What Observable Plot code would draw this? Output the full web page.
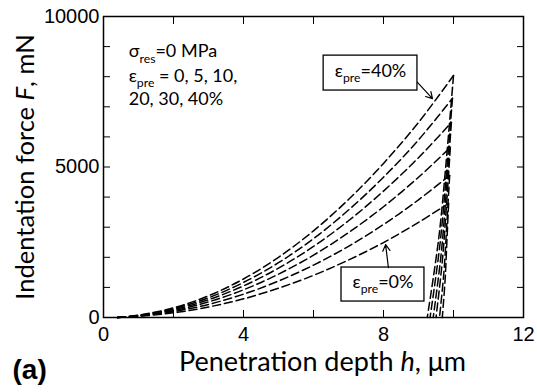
<!DOCTYPE html>
<html><head><meta charset="utf-8">
<script src="https://cdn.jsdelivr.net/npm/d3@7"></script>
<script src="https://cdn.jsdelivr.net/npm/@observablehq/plot@0.6"></script>
<style>body{margin:0;background:#fff}</style>
</head><body><div id="chart"></div>
<script>
// Pre-strain levels
const series = ["0%", "5%", "10%", "20%", "30%", "40%"];
// Loading branch: depth (µm) and force (mN)
const hLoad = [0.4, 1, 2, 3, 4, 5, 6, 7, 8, 9];
const F0  = [0, 40, 155, 350, 620, 975, 1400, 1910, 2490, 3160];
const F5  = [0, 48, 195, 435, 775, 1210, 1740, 2365, 3090, 3910];
const F10 = [0, 58, 230, 520, 920, 1440, 2070, 2820, 3680, 4660];
const F20 = [0, 66, 262, 590, 1050, 1640, 2360, 3215, 4200, 5310];
const F30 = [0, 73, 290, 655, 1165, 1820, 2620, 3570, 4660, 5900];
const F40 = [0, 80, 320, 720, 1280, 2000, 2880, 3920, 5120, 6480];
const loadF = [F0, F5, F10, F20, F30, F40];
// Peak points
const peakH = [9.86, 9.89, 9.91, 9.94, 9.97, 10.0];
const peakF = [3790, 4720, 5650, 6480, 7280, 8040];
// Unloading branch (two intermediate points, then residual depth)
const unloadH1 = [9.81, 9.81, 9.80, 9.80, 9.80, 9.80];
const unloadF1 = [2500, 3115, 3730, 4280, 4805, 5305];
const unloadH2 = [9.76, 9.73, 9.68, 9.65, 9.61, 9.58];
const unloadF2 = [1250, 1560, 1865, 2140, 2400, 2650];
const residualH = [9.68, 9.60, 9.50, 9.42, 9.33, 9.25];

// Tick values
const xTicksAll = [0, 2, 4, 6, 8, 10, 12];
const xTickLabels = [0, 4, 8, 12];
const yTicksAll = [0, 1000, 2000, 3000, 4000, 5000, 6000, 7000, 8000, 9000, 10000];
const yTickLabels = [0, 5000, 10000];

// Annotations (data units)
const noteText = ["σ_{res}=0 MPa", "ε_{pre} = 0, 5, 10,", "20, 30, 40%"];
const noteH = [0.72, 0.72, 0.72];
const noteF = [8830, 8010, 7260];
const boxText = ["ε_{pre}=40%", "ε_{pre}=0%"];
const boxX1 = [6.29, 6.80], boxX2 = [8.97, 9.17];
const boxY1 = [7540, 530], boxY2 = [8700, 1660];
const arrowX1 = [8.97, 8.14], arrowY1 = [7810, 1660];
const arrowX2 = [9.40, 8.06], arrowY2 = [7270, 2420];

// Build tables
const loadRows = [], unloadRows = [];
series.forEach((s, i) => {
  hLoad.forEach((h, j) => loadRows.push({s, h, F: loadF[i][j]}));
  loadRows.push({s, h: peakH[i], F: peakF[i]});
  unloadRows.push({s, h: peakH[i], F: peakF[i]});
  unloadRows.push({s, h: unloadH1[i], F: unloadF1[i]});
  unloadRows.push({s, h: unloadH2[i], F: unloadF2[i]});
  unloadRows.push({s, h: residualH[i], F: 0});
});
const notes = noteText.map((t, i) => ({t, h: noteH[i], F: noteF[i]}));
const boxes = boxText.map((t, i) => ({t, x1: boxX1[i], x2: boxX2[i], y1: boxY1[i], y2: boxY2[i]}));
const arrows = arrowX1.map((d, i) => ({x1: arrowX1[i], y1: arrowY1[i], x2: arrowX2[i], y2: arrowY2[i]}));

const labelFont = "Lato, 'Open Sans', sans-serif";
const tickFont = "'Liberation Sans', Arial, sans-serif";
const dash = "8,4";

const plot = Plot.plot({
  width: 537, height: 392,
  marginLeft: 103, marginRight: 14, marginTop: 16, marginBottom: 75,
  style: {background: "#fff", color: "#000"},
  x: {domain: [0, 12]},
  y: {domain: [0, 10000]},
  marks: [
    Plot.line(loadRows, {x: "h", y: "F", z: "s", stroke: "#000", strokeWidth: 1.5, strokeDasharray: dash, curve: "catmull-rom"}),
    Plot.line(unloadRows, {x: "h", y: "F", z: "s", stroke: "#000", strokeWidth: 1.5, strokeDasharray: dash, curve: "catmull-rom"}),
    Plot.axisX({ticks: xTicksAll, tickSize: -7, tickFormat: () => "", anchor: "bottom", label: null}),
    Plot.axisX({ticks: xTicksAll, tickSize: -7, tickFormat: () => "", anchor: "top", label: null}),
    Plot.axisX({ticks: xTickLabels, tickSize: 0, tickPadding: 9, anchor: "bottom", label: null, fontSize: 20, fontFamily: tickFont, tickFormat: d => String(d)}),
    Plot.axisY({ticks: yTicksAll, tickSize: -7, tickFormat: () => "", anchor: "left", label: null}),
    Plot.axisY({ticks: yTicksAll, tickSize: -7, tickFormat: () => "", anchor: "right", label: null}),
    Plot.axisY({ticks: yTickLabels, tickSize: 0, tickPadding: 4, anchor: "left", label: null, fontSize: 20, fontFamily: tickFont, tickFormat: d => String(d)}),
    Plot.frame({stroke: "#000", strokeWidth: 1.5}),
    Plot.rect(boxes, {x1: "x1", x2: "x2", y1: "y1", y2: "y2", fill: "#fff", stroke: "#000", strokeWidth: 1.3}),
    Plot.text(boxes, {x: d => (d.x1 + d.x2) / 2, y: d => (d.y1 + d.y2) / 2, text: "t", fontSize: 18, fontFamily: labelFont, dy: -2}),
    Plot.arrow(arrows, {x1: "x1", y1: "y1", x2: "x2", y2: "y2", stroke: "#000", strokeWidth: 1.2, headLength: 9}),
    Plot.text(notes, {x: "h", y: "F", text: "t", textAnchor: "start", fontSize: 18, fontFamily: labelFont}),
    Plot.text(["Penetration depth *h*, μm"], {frameAnchor: "bottom", dx: 9, dy: 53, fontSize: 27, fontFamily: labelFont}),
    Plot.text(["Indentation force *F*, mN"], {frameAnchor: "left", textAnchor: "middle", rotate: -90, dx: -78, fontSize: 25.5, fontFamily: labelFont}),
    Plot.text(["(a)"], {frameAnchor: "bottom-left", dx: -91, dy: 61, textAnchor: "start", fontSize: 28, fontWeight: "bold", fontFamily: tickFont})
  ]
});

// Rich text: _{sub} subscripts and *italic*
function rich(el) {
  const s = el.textContent;
  if (!/_\{|\*/.test(s)) return;
  const fs = parseFloat(el.getAttribute("font-size") || el.parentNode.getAttribute("font-size")) || 16;
  const sel = d3.select(el);
  sel.text("");
  const re = /(_\{[^}]*\})|(\*[^*]*\*)|([^_*]+)/g;
  let m, shift = 0;
  while ((m = re.exec(s))) {
    const t = sel.append("tspan");
    if (m[1]) {
      t.text(m[1].slice(2, -1)).attr("font-size", fs * 0.68).attr("dy", fs * 0.28 - shift);
      shift = fs * 0.28;
    } else {
      if (shift) { t.attr("dy", -shift); shift = 0; }
      if (m[2]) t.text(m[2].slice(1, -1)).attr("font-style", "italic");
      else t.text(m[3]);
    }
  }
}
d3.select(plot).selectAll("text").each(function() {
  if (this.textContent === "") this.remove(); else rich(this);
});
document.getElementById("chart").appendChild(plot);
</script>
</body></html>
